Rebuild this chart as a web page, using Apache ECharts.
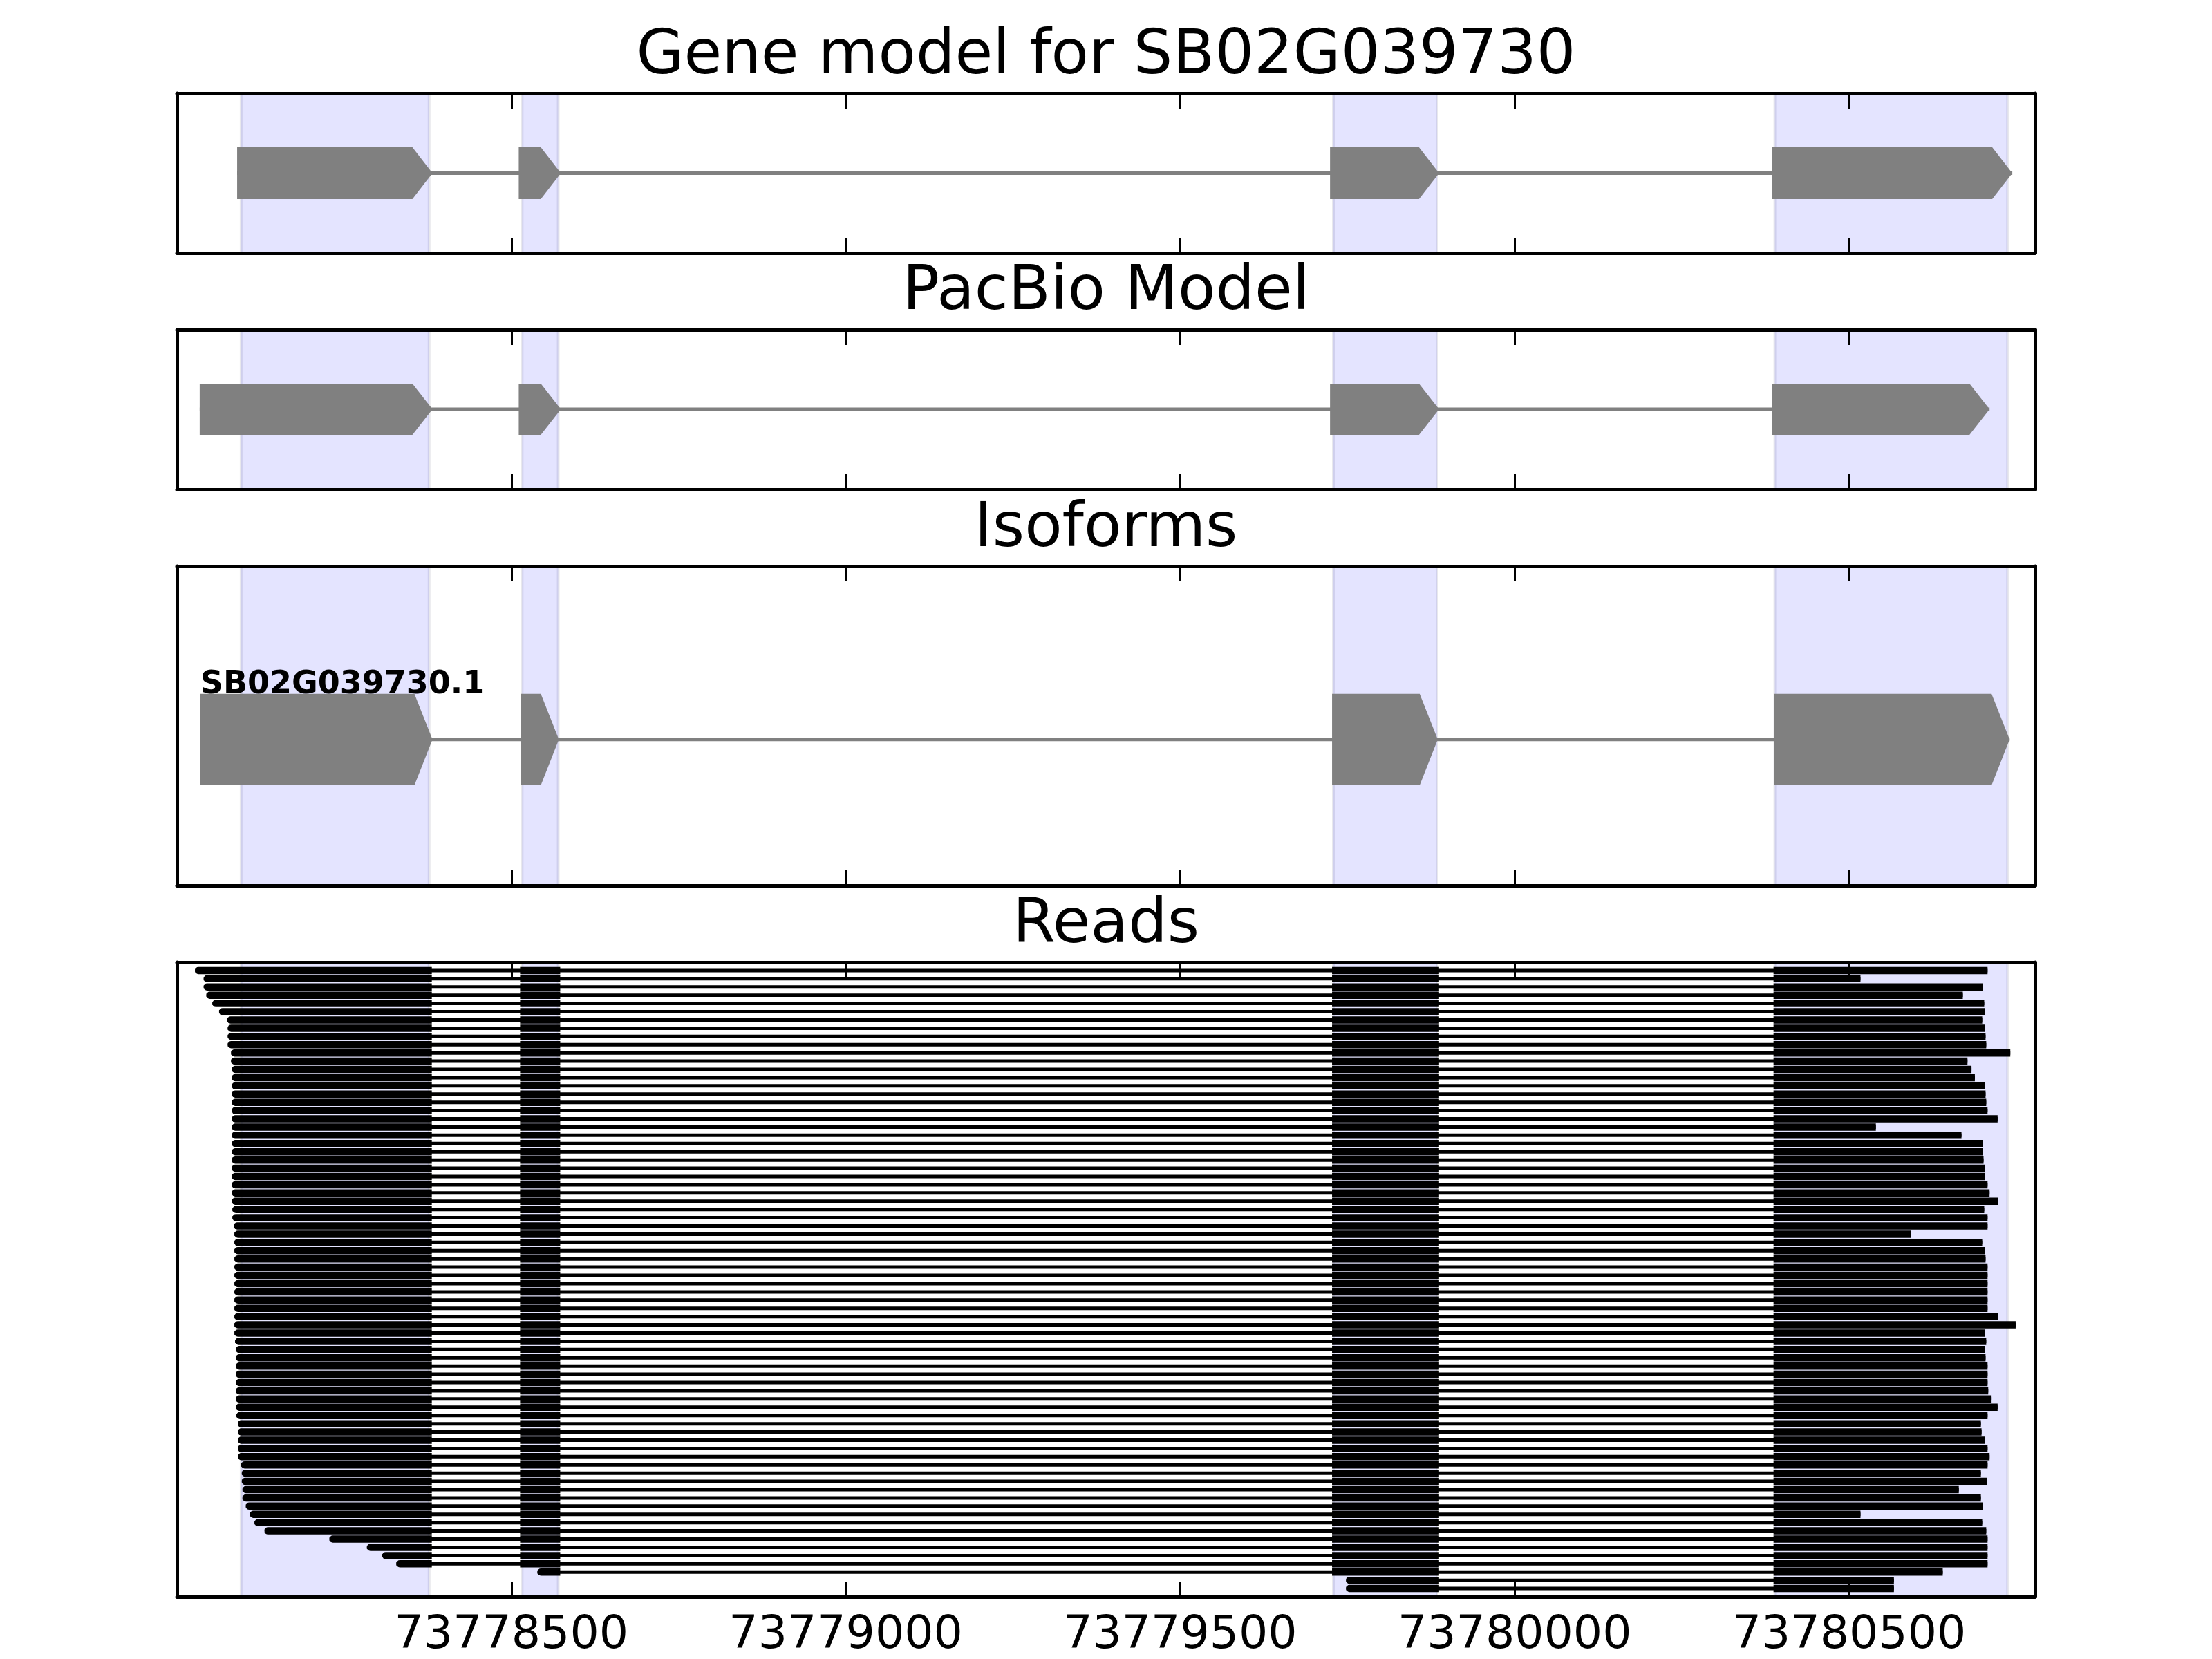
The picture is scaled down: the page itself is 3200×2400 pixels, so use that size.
<!DOCTYPE html>
<html><head><meta charset="utf-8">
<script src="https://cdn.jsdelivr.net/npm/echarts@6/dist/echarts.min.js"></script>
<style>html,body{margin:0;padding:0;background:#fff}#c{width:3200px;height:2400px}</style>
</head><body><div id="c"></div>
<script>
// ---------------- data ----------------
const X_MIN = 73778000;
const X_MAX = 73780778;
const TICK_STEP = 500;
const panelTitles = ['Gene model for SB02G039730', 'PacBio Model', 'Isoforms', 'Reads'];

// shaded exon bands (shared by all panels)
const exonBands = [[73778096, 73778377], [73778516, 73778570], [73779729, 73779884], [73780389, 73780737]];
// gene model exons
const geneModelExons = [[73778090, 73778382], [73778511, 73778574], [73779724, 73779887], [73780385, 73780744]];
// PacBio model exons
const pacbioExons = [[73778034, 73778382], [73778511, 73778574], [73779724, 73779887], [73780385, 73780710]];
// isoform
const isoformName = 'SB02G039730.1';
const isoformExons = [[73778035, 73778382], [73778514, 73778571], [73779727, 73779885], [73780388, 73780740]];
// read splice junction boundaries (exon starts / ends; null = open, read start/end)
const readExonStarts = [null, 73778513, 73779727, 73780387];
const readExonEnds = [73778381, 73778573, 73779887, null];
// reads, top to bottom
const readStarts = [
  73778027, 73778040, 73778040, 73778044, 73778053, 73778063, 73778075, 73778076, 73778076, 73778076,
  73778081, 73778081, 73778082, 73778082, 73778082, 73778082, 73778082, 73778082, 73778082, 73778082,
  73778082, 73778082, 73778082, 73778082, 73778082, 73778082, 73778082, 73778082, 73778082, 73778083,
  73778083, 73778085, 73778086, 73778086, 73778086, 73778086, 73778086, 73778086, 73778086, 73778086,
  73778086, 73778086, 73778086, 73778086, 73778086, 73778087, 73778088, 73778088, 73778088, 73778088,
  73778088, 73778088, 73778088, 73778088, 73778089, 73778091, 73778091, 73778091, 73778091, 73778091,
  73778096, 73778097, 73778097, 73778098, 73778098, 73778103, 73778109, 73778116, 73778131, 73778228,
  73778284, 73778307, 73778328, 73778539, 73779748, 73779748
];
const readEnds = [
  73780707, 73780517, 73780700, 73780670, 73780702, 73780703, 73780699, 73780703, 73780704, 73780705,
  73780741, 73780677, 73780683, 73780688, 73780703, 73780704, 73780705, 73780707, 73780722, 73780540,
  73780668, 73780700, 73780700, 73780701, 73780703, 73780703, 73780707, 73780710, 73780723, 73780702,
  73780707, 73780707, 73780593, 73780699, 73780703, 73780704, 73780707, 73780707, 73780707, 73780707,
  73780707, 73780707, 73780723, 73780749, 73780703, 73780705, 73780703, 73780704, 73780707, 73780707,
  73780707, 73780708, 73780713, 73780722, 73780707, 73780697, 73780698, 73780703, 73780707, 73780710,
  73780707, 73780697, 73780706, 73780664, 73780697, 73780700, 73780517, 73780699, 73780705, 73780707,
  73780707, 73780707, 73780707, 73780640, 73780567, 73780567
];

// ---------------- style ----------------
const FONT = 'DejaVu Sans';
const GRAY = '#808080';
const BAND_FILL = 'rgba(0,0,255,0.105)';
const BAND_EDGE = 'rgba(0,0,60,0.09)';
const SPINE_W = 5;
const panels = [
  {top: 135, height: 231, yMin: 0, yMax: 1},
  {top: 477, height: 231, yMin: 0, yMax: 1},
  {top: 819, height: 462, yMin: 0, yMax: 1},
  {top: 1392, height: 921, yMin: -1, yMax: readStarts.length}
];
const titleTops = [38, 379, 722, 1295];

const grids = [], xAxes = [], yAxes = [], series = [];
panels.forEach((p, g) => {
  grids.push({left: 256, right: 256, top: p.top, height: p.height, containLabel: false});
  ['bottom', 'top'].forEach(pos => {
    xAxes.push({
      gridIndex: g, type: 'value', position: pos, min: X_MIN, max: X_MAX, interval: TICK_STEP, z: 10,
      axisLine: {show: true, onZero: false, lineStyle: {color: '#000', width: SPINE_W}},
      axisTick: {show: true, inside: true, length: 22, lineStyle: {color: '#000', width: 3}},
      splitLine: {show: false},
      axisLabel: {
        show: (g === 3 && pos === 'bottom'), formatter: v => String(v), fontSize: 66.5, fontFamily: FONT,
        color: '#000', margin: 23, showMinLabel: false, showMaxLabel: false
      }
    });
  });
  ['left', 'right'].forEach(pos => {
    yAxes.push({
      gridIndex: g, type: 'value', position: pos, min: p.yMin, max: p.yMax, inverse: true, z: 10,
      axisLine: {show: true, onZero: false, lineStyle: {color: '#000', width: SPINE_W}},
      axisTick: {show: false}, axisLabel: {show: false}, splitLine: {show: false}
    });
  });
  // shaded exon bands
  series.push({
    type: 'custom', xAxisIndex: 2 * g, yAxisIndex: 2 * g, z: 1, silent: true,
    encode: {x: [0, 1], y: 2},
    data: exonBands.map(b => [b[0], b[1], 0]),
    renderItem: (params, api) => {
      const cs = params.coordSys;
      const a = api.coord([api.value(0), 0])[0];
      const b = api.coord([api.value(1), 0])[0];
      return {type: 'rect', shape: {x: a, y: cs.y, width: b - a, height: cs.height},
        style: {fill: BAND_FILL, stroke: BAND_EDGE, lineWidth: 4}};
    }
  });
});

function addModel(g, exons, yc, hh, head, label) {
  // intron backbone
  series.push({
    type: 'custom', xAxisIndex: 2 * g, yAxisIndex: 2 * g, z: 3, silent: true,
    encode: {x: [0, 1], y: 2},
    data: [[exons[0][0], exons[exons.length - 1][1], yc]],
    renderItem: (params, api) => {
      const a = api.coord([api.value(0), yc]);
      const b = api.coord([api.value(1), yc]);
      return {type: 'line', shape: {x1: a[0], y1: a[1], x2: b[0], y2: b[1]}, style: {stroke: GRAY, lineWidth: 5}};
    }
  });
  // exon arrows
  series.push({
    type: 'custom', xAxisIndex: 2 * g, yAxisIndex: 2 * g, z: 4, silent: true,
    encode: {x: [0, 1], y: 2},
    data: exons.map(e => [e[0], e[1], yc]),
    renderItem: (params, api) => {
      const s = api.value(0), e = api.value(1);
      const h = Math.min(head, e - s);
      const pT = api.coord([s, yc - hh]), pB = api.coord([s, yc + hh]);
      const pH = api.coord([e - h, yc]), pE = api.coord([e, yc]);
      const poly = {type: 'polygon', shape: {points: [[pT[0], pT[1]], [pH[0], pT[1]], [pE[0], pE[1]], [pH[0], pB[1]], [pB[0], pB[1]]]},
        style: {fill: GRAY}};
      if (label && params.dataIndex === 0) {
        const top = Math.min(pT[1], pB[1]);
        return {type: 'group', children: [poly, {
          type: 'text', x: pT[0], y: top + 10,
          style: {text: label, fontSize: 46, fontWeight: 'bold', fontFamily: FONT, fill: '#000', align: 'left', verticalAlign: 'bottom'}
        }]};
      }
      return poly;
    }
  });
}
addModel(0, geneModelExons, 0.5, 0.162, 30, null);
addModel(1, pacbioExons, 0.498, 0.16, 30, null);
addModel(2, isoformExons, 0.543, 0.143, 27, isoformName);

// reads
const READ_H = 10.5, READ_LINE = 5;
series.push({
  type: 'custom', xAxisIndex: 6, yAxisIndex: 6, z: 3, silent: true,
  encode: {x: [0, 1], y: 2},
  data: readStarts.map((s, i) => [s, readEnds[i], i]),
  renderItem: (params, api) => {
    const s = api.value(0), e = api.value(1), row = api.value(2);
    const p0 = api.coord([s, row]), p1 = api.coord([e, row]);
    const yc = p0[1];
    const children = [{type: 'line', shape: {x1: p0[0], y1: yc, x2: p1[0], y2: yc}, style: {stroke: '#000', lineWidth: READ_LINE}}];
    let first = true;
    for (let i = 0; i < readExonStarts.length; i++) {
      const bs = Math.max(s, readExonStarts[i] === null ? -Infinity : readExonStarts[i]);
      const be = Math.min(e, readExonEnds[i] === null ? Infinity : readExonEnds[i]);
      if (be <= bs) continue;
      const a = api.coord([bs, row])[0], b = api.coord([be, row])[0];
      children.push({type: 'rect', shape: {x: a, y: yc - READ_H / 2, width: b - a, height: READ_H, r: first ? [5, 0, 0, 5] : 0},
        style: {fill: '#000'}});
      first = false;
    }
    return {type: 'group', children};
  }
});

const option = {
  animation: false,
  backgroundColor: '#fff',
  title: panelTitles.map((t, i) => ({
    text: t, left: 'center', top: titleTops[i], padding: 0,
    textStyle: {fontSize: 89, fontWeight: 'normal', fontFamily: FONT, color: '#000'}
  })),
  grid: grids, xAxis: xAxes, yAxis: yAxes, series
};
const chart = echarts.init(document.getElementById('c'));
chart.setOption(option);
</script></body></html>
